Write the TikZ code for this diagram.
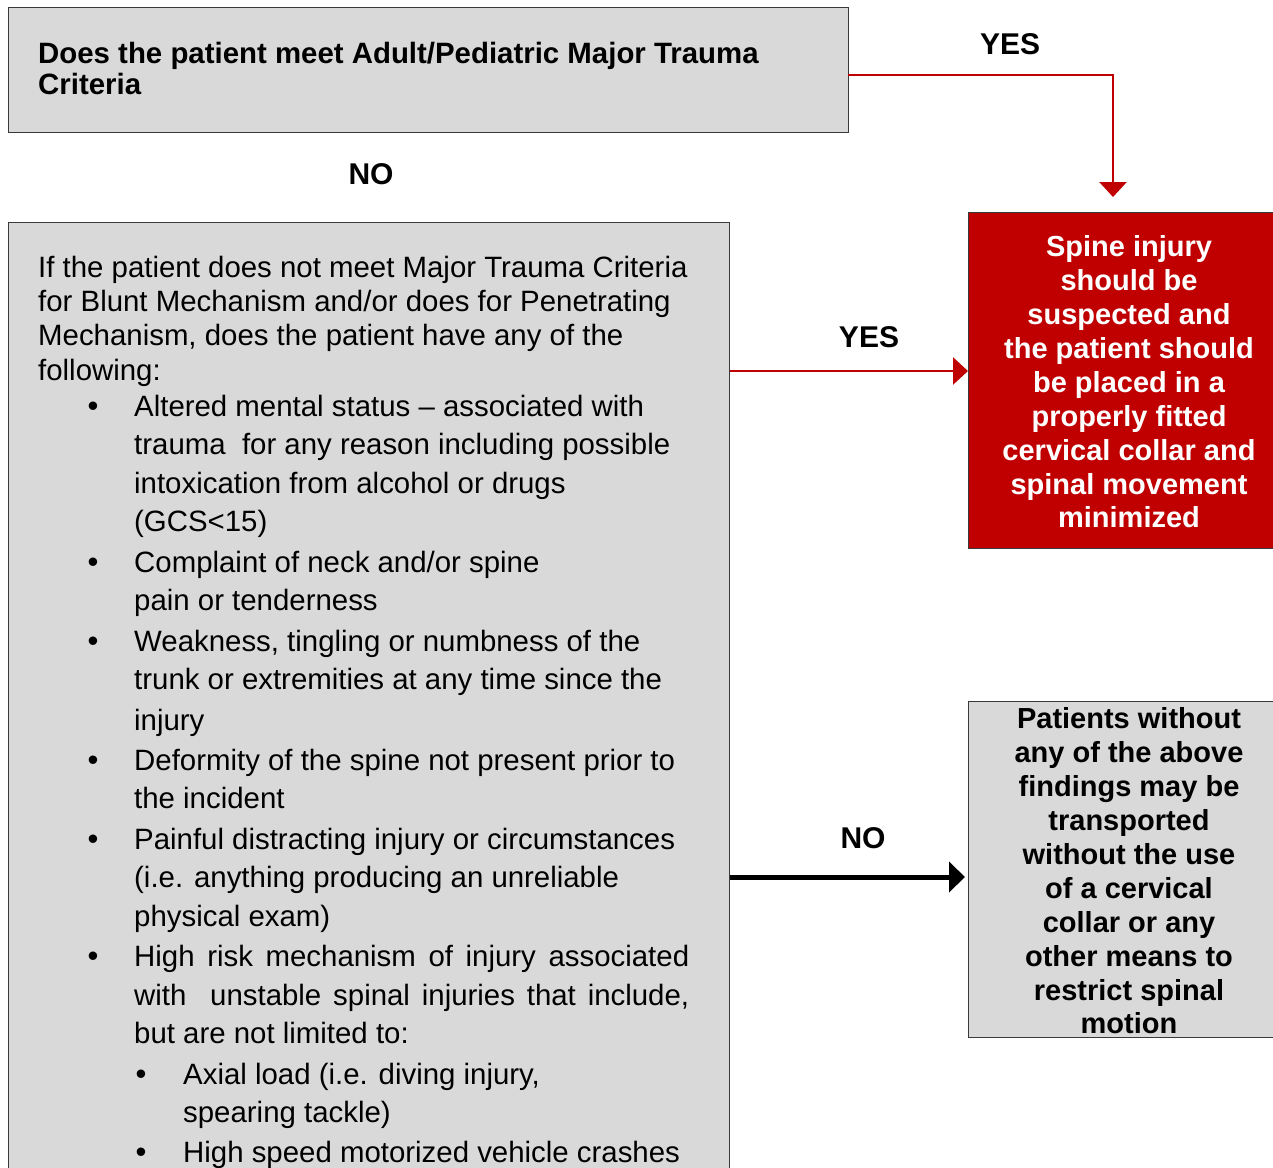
\documentclass[tikz,border=0pt]{standalone}
\usepackage{fontspec}
\setmainfont{Liberation Sans}
\usetikzlibrary{arrows.meta}
\definecolor{boxgray}{HTML}{D9D9D9}
\definecolor{darkred}{HTML}{C00000}
\definecolor{edgegray}{HTML}{3A3A3A}
\begin{document}
\begin{tikzpicture}[x=1pt,y=-1pt,
  box/.style={draw=edgegray, line width=1.3pt, fill=boxgray, anchor=north west, inner sep=0pt},
  redbox/.style={draw=edgegray, line width=1.3pt, fill=darkred, anchor=north west, inner sep=0pt},
  txt/.style={anchor=base west, inner sep=0pt, font=\fontsize{29.4}{34}\selectfont},
  bul/.style={anchor=base, inner sep=0pt, font=\fontsize{31}{34}\selectfont},
  ctr/.style={align=center, inner sep=0pt, font=\fontsize{29}{33.9}\selectfont\bfseries},
  lbl/.style={inner sep=0pt, font=\fontsize{30}{36}\selectfont\bfseries},
  redarrow/.style={draw=darkred, line width=2.6pt, -{Triangle[length=15pt,width=27pt]}},
  blackarrow/.style={draw=black, line width=5pt, -{Triangle[length=16pt,width=30pt]}}
]
\clip (0,0) rectangle (1273,1167);
\fill[white] (0,0) rectangle (1273,1167);

% boxes
\node[box, minimum width=840pt, minimum height=125pt] (q1) at (8,7) {};
\node[anchor=base west, inner sep=0pt, align=left, font=\fontsize{29.4}{31}\selectfont\bfseries] (q1t) at (38,94)
  {Does the patient meet Adult/Pediatric Major Trauma\\Criteria};
\node[box, minimum width=721pt, minimum height=980pt] (main) at (8,222) {};
\node[redbox, minimum width=305pt, minimum height=336pt] (spine) at (968,212) {};
\node[box, minimum width=305pt, minimum height=336pt] (nospine) at (968,701) {};

% box texts
\node[ctr, text=white] (spinet) at (1129,382)
  {Spine injury\\should be\\suspected and\\the patient should\\be placed in a\\properly fitted\\cervical collar and\\spinal movement\\minimized};
\node[ctr, text=black] (nospinet) at (1129,871)
  {Patients without\\any of the above\\findings may be\\transported\\without the use\\of a cervical\\collar or any\\other means to\\restrict spinal\\motion};

% main text lines
\foreach \xx/\yy/\tt [count=\i] in {
  38/267/{If the patient does not meet Major Trauma Criteria},
  38/301/{for Blunt Mechanism and/or does for Penetrating},
  38/335/{Mechanism, does the patient have any of the},
  38/370/{following:},
  134/406/{Altered mental status -- associated with},
  134/444/{trauma\ \ for any reason including possible},
  134/483/{intoxication from alcohol or drugs},
  134/521/{(GCS<15)},
  134/562/{Complaint of neck and/or spine},
  134/600/{pain or tenderness},
  134/641/{Weakness, tingling or numbness of the},
  134/679/{trunk or extremities at any time since the},
  134/720/{injury},
  134/760/{Deformity of the spine not present prior to},
  134/798/{the incident},
  134/839/{Painful distracting injury or circumstances},
  134/877/{(i.e. anything producing an unreliable},
  134/916/{physical exam)},
  134/956/{\makebox[555pt][s]{High risk mechanism of injury associated}},
  134/995/{\makebox[555pt][s]{with\ \ unstable spinal injuries that include,}},
  134/1033/{but are not limited to:},
  183/1074/{Axial load (i.e. diving injury,},
  183/1112/{spearing tackle)},
  183/1152/{High speed motorized vehicle crashes}}
  { \node[txt] (line\i) at (\xx,\yy+10) {\tt}; }

\foreach \xx/\yy [count=\i] in {93/406,93/562,93/641,93/760,93/839,93/956,141/1074,141/1152}
  { \node[bul] (bul\i) at (\xx,\yy+10) {•}; }

% labels
\node[lbl] (yes1) at (1010,44) {YES};
\node[lbl] (no1) at (371,174) {NO};
\node[lbl] (yes2) at (869,337) {YES};
\node[lbl] (no2) at (863,838) {NO};

% connectors
\coordinate (a1) at (1113,197);
\coordinate (a1s) at (848,75);
\draw[redarrow] (a1s) -| (a1);
\coordinate (a2) at (968,371);
\draw[redarrow] (main.east |- a2) -- (a2);
\coordinate (a3) at (965,877);
\draw[blackarrow] (main.east |- a3) -- (a3);
\end{tikzpicture}
\end{document}
